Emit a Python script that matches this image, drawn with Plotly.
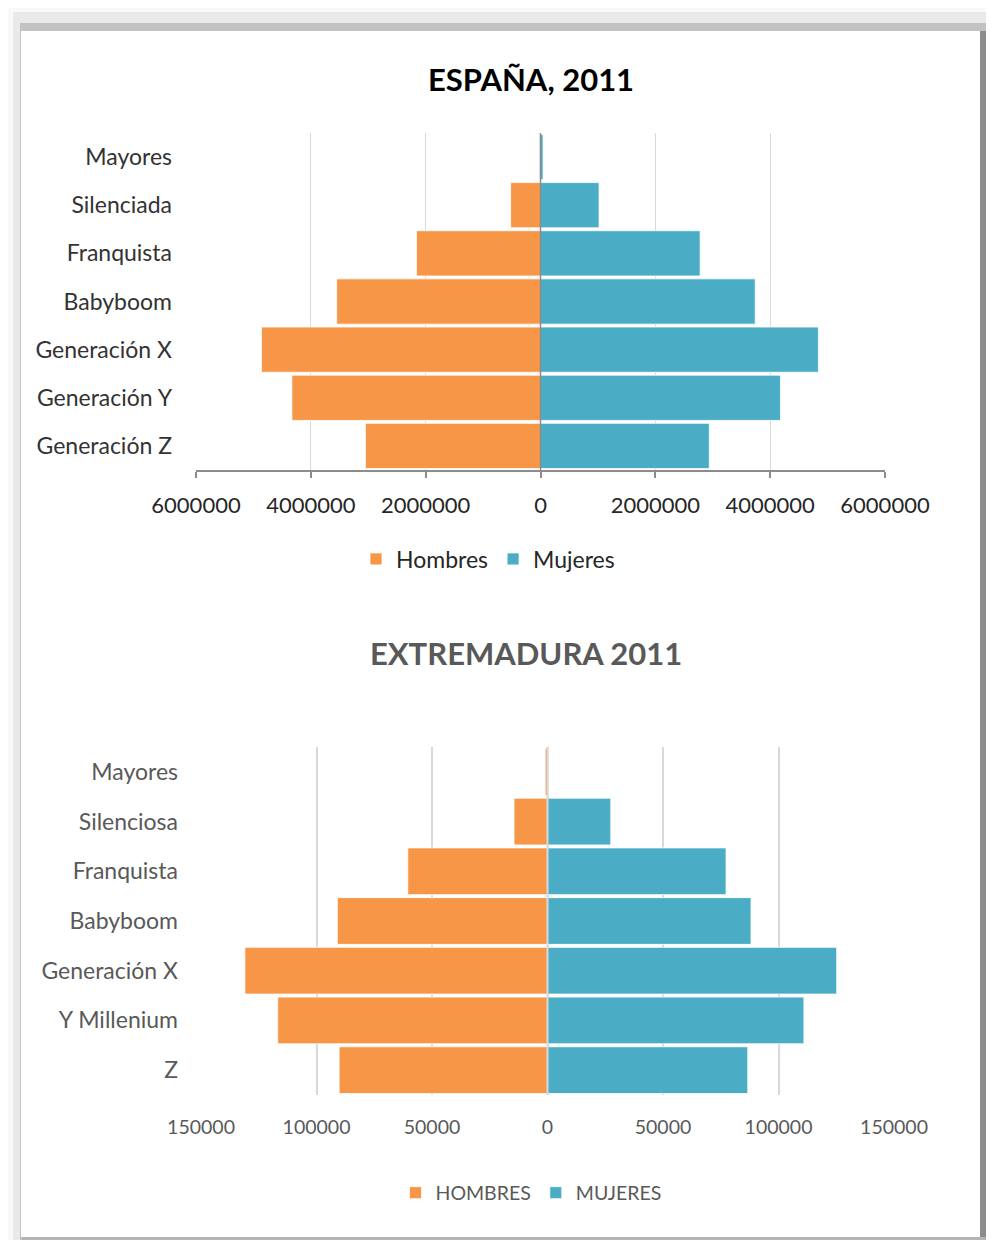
import plotly.graph_objects as go

# ---------------- data ----------------
cats_esp = ["Mayores", "Silenciada", "Franquista", "Babyboom",
            "Generación X", "Generación Y", "Generación Z"]
hombres_esp = [15000, 520000, 2160000, 3550000, 4860000, 4330000, 3050000]
mujeres_esp = [45000, 1020000, 2780000, 3740000, 4840000, 4180000, 2940000]

cats_ext = ["Mayores", "Silenciosa", "Franquista", "Babyboom",
            "Generación X", "Y Millenium", "Z"]
hombres_ext = [1000, 14500, 60500, 91000, 131000, 116800, 90200]
mujeres_ext = [300, 27400, 77300, 88100, 125200, 111000, 86700]

ticks_esp = [-6000000, -4000000, -2000000, 0, 2000000, 4000000, 6000000]
ticks_ext = [-150000, -100000, -50000, 0, 50000, 100000, 150000]

title_esp = "ESPAÑA, 2011"
title_ext = "EXTREMADURA 2011"

# ---------------- style ----------------
OFF = 8                      # default body margin of the page
W, H = 994 - 2 * OFF, 1249 - 2 * OFF - 1
ORANGE = "#F79646"
BLUE = "#4BACC6"
FONT = "Lato, 'Open Sans', sans-serif"
DARK = "#262626"
GRAY = "#595959"


def px(x):
    return (x - OFF) / W


def py(y):
    return 1 - (y - OFF) / H


fig = go.Figure()

neg = lambda v: [-a for a in v]
edge = dict(color="rgba(255,255,255,0.8)", width=1)

fig.add_trace(go.Bar(y=cats_esp, x=neg(hombres_esp), orientation="h", name="Hombres",
                     marker=dict(color=ORANGE, line=edge),
                     customdata=hombres_esp, hovertemplate="%{y}: %{customdata}<extra>Hombres</extra>",
                     xaxis="x", yaxis="y", legend="legend"))
fig.add_trace(go.Bar(y=cats_esp, x=mujeres_esp, orientation="h", name="Mujeres",
                     marker=dict(color=BLUE, line=edge),
                     customdata=mujeres_esp, hovertemplate="%{y}: %{customdata}<extra>Mujeres</extra>",
                     xaxis="x", yaxis="y", legend="legend"))
fig.add_trace(go.Bar(y=cats_ext, x=neg(hombres_ext), orientation="h", name="HOMBRES",
                     marker=dict(color=ORANGE, line=edge),
                     customdata=hombres_ext, hovertemplate="%{y}: %{customdata}<extra>HOMBRES</extra>",
                     xaxis="x2", yaxis="y2", legend="legend2"))
fig.add_trace(go.Bar(y=cats_ext, x=mujeres_ext, orientation="h", name="MUJERES",
                     marker=dict(color=BLUE, line=edge),
                     customdata=mujeres_ext, hovertemplate="%{y}: %{customdata}<extra>MUJERES</extra>",
                     xaxis="x2", yaxis="y2", legend="legend2"))

shapes = [
    # frame / shadow
    dict(type="rect", xref="paper", yref="paper", x0=px(13), x1=px(994), y0=py(1249), y1=py(12),
         fillcolor="#e9e9e9", line=dict(width=0), layer="below"),
    dict(type="rect", xref="paper", yref="paper", x0=px(20), x1=px(994), y0=py(1245), y1=py(23),
         fillcolor="#c2c2c2", line=dict(width=0), layer="below"),
    dict(type="rect", xref="paper", yref="paper", x0=px(22), x1=px(988), y0=py(1245), y1=py(31),
         fillcolor="#b4b4b4", line=dict(width=0), layer="below"),
    dict(type="rect", xref="paper", yref="paper", x0=px(980), x1=px(988), y0=py(1237), y1=py(31),
         fillcolor="#8c8c8c", line=dict(width=0), layer="below"),
    dict(type="rect", xref="paper", yref="paper", x0=px(21), x1=px(980), y0=py(1237), y1=py(31),
         fillcolor="#ffffff", line=dict(width=0), layer="below"),
    # category axis lines at zero
    dict(type="line", xref="x", yref="y domain", x0=0, x1=0, y0=0, y1=1,
         line=dict(color="#8c8c8c", width=1.5), layer="above"),
    dict(type="line", xref="x2", yref="y2 domain", x0=0, x1=0, y0=0, y1=1,
         line=dict(color="#d9d9d9", width=2), layer="above"),
]

fig.update_layout(
    width=W, height=H,
    margin=dict(l=0, r=0, t=0, b=0, autoexpand=False),
    paper_bgcolor="#f9f9f9",
    plot_bgcolor="rgba(0,0,0,0)",
    barmode="relative",
    bargap=0.06,
    font=dict(family=FONT, color=DARK),
    shapes=shapes,
    xaxis=dict(domain=[px(196), px(885)], anchor="y", range=[-6000000, 6000000],
               tickvals=ticks_esp, ticktext=[str(abs(t)) for t in ticks_esp],
               showgrid=True, gridcolor="#d9d9d9", gridwidth=1, zeroline=False,
               showline=True, linecolor="#8c8c8c", linewidth=1.5,
               ticks="outside", ticklen=6, tickcolor="#8c8c8c", tickwidth=1.5,
               ticklabelstandoff=9, automargin=False,
               tickfont=dict(size=22, color=DARK), fixedrange=True),
    yaxis=dict(domain=[py(470), py(133)], anchor="x", type="category", autorange="reversed",
               showgrid=False, zeroline=False, showline=False, ticks="",
               ticklabelstandoff=23, automargin=False,
               tickfont=dict(size=23, color="#333333"), fixedrange=True),
    xaxis2=dict(domain=[px(201), px(894)], anchor="y2", range=[-150000, 150000],
                tickvals=ticks_ext, ticktext=[str(abs(t)) for t in ticks_ext],
                showgrid=True, gridcolor="#d9d9d9", gridwidth=1.5, zeroline=False,
                showline=False, ticks="", ticklabelstandoff=18, automargin=False,
                tickfont=dict(size=19.5, color=GRAY), fixedrange=True),
    yaxis2=dict(domain=[py(1095), py(747)], anchor="x2", type="category", autorange="reversed",
                showgrid=False, zeroline=False, showline=False, ticks="",
                ticklabelstandoff=22, automargin=False,
                tickfont=dict(size=23, color=GRAY), fixedrange=True),
    legend=dict(orientation="h", x=px(488), y=py(559), xanchor="center", yanchor="middle",
                font=dict(size=23, color=DARK), bgcolor="rgba(0,0,0,0)", itemwidth=30),
    legend2=dict(orientation="h", x=px(531), y=py(1193), xanchor="center", yanchor="middle",
                 font=dict(size=19.5, color=GRAY), bgcolor="rgba(0,0,0,0)", itemwidth=30),
    annotations=[
        dict(text="<b>%s</b>" % title_esp, xref="paper", yref="paper", x=px(531), y=py(79),
             xanchor="center", yanchor="middle", showarrow=False,
             font=dict(size=31, color="#000000")),
        dict(text="<b>%s</b>" % title_ext, xref="paper", yref="paper", x=px(526), y=py(653),
             xanchor="center", yanchor="middle", showarrow=False,
             font=dict(size=31, color=GRAY)),
    ],
)

fig.write_html("out.html")
